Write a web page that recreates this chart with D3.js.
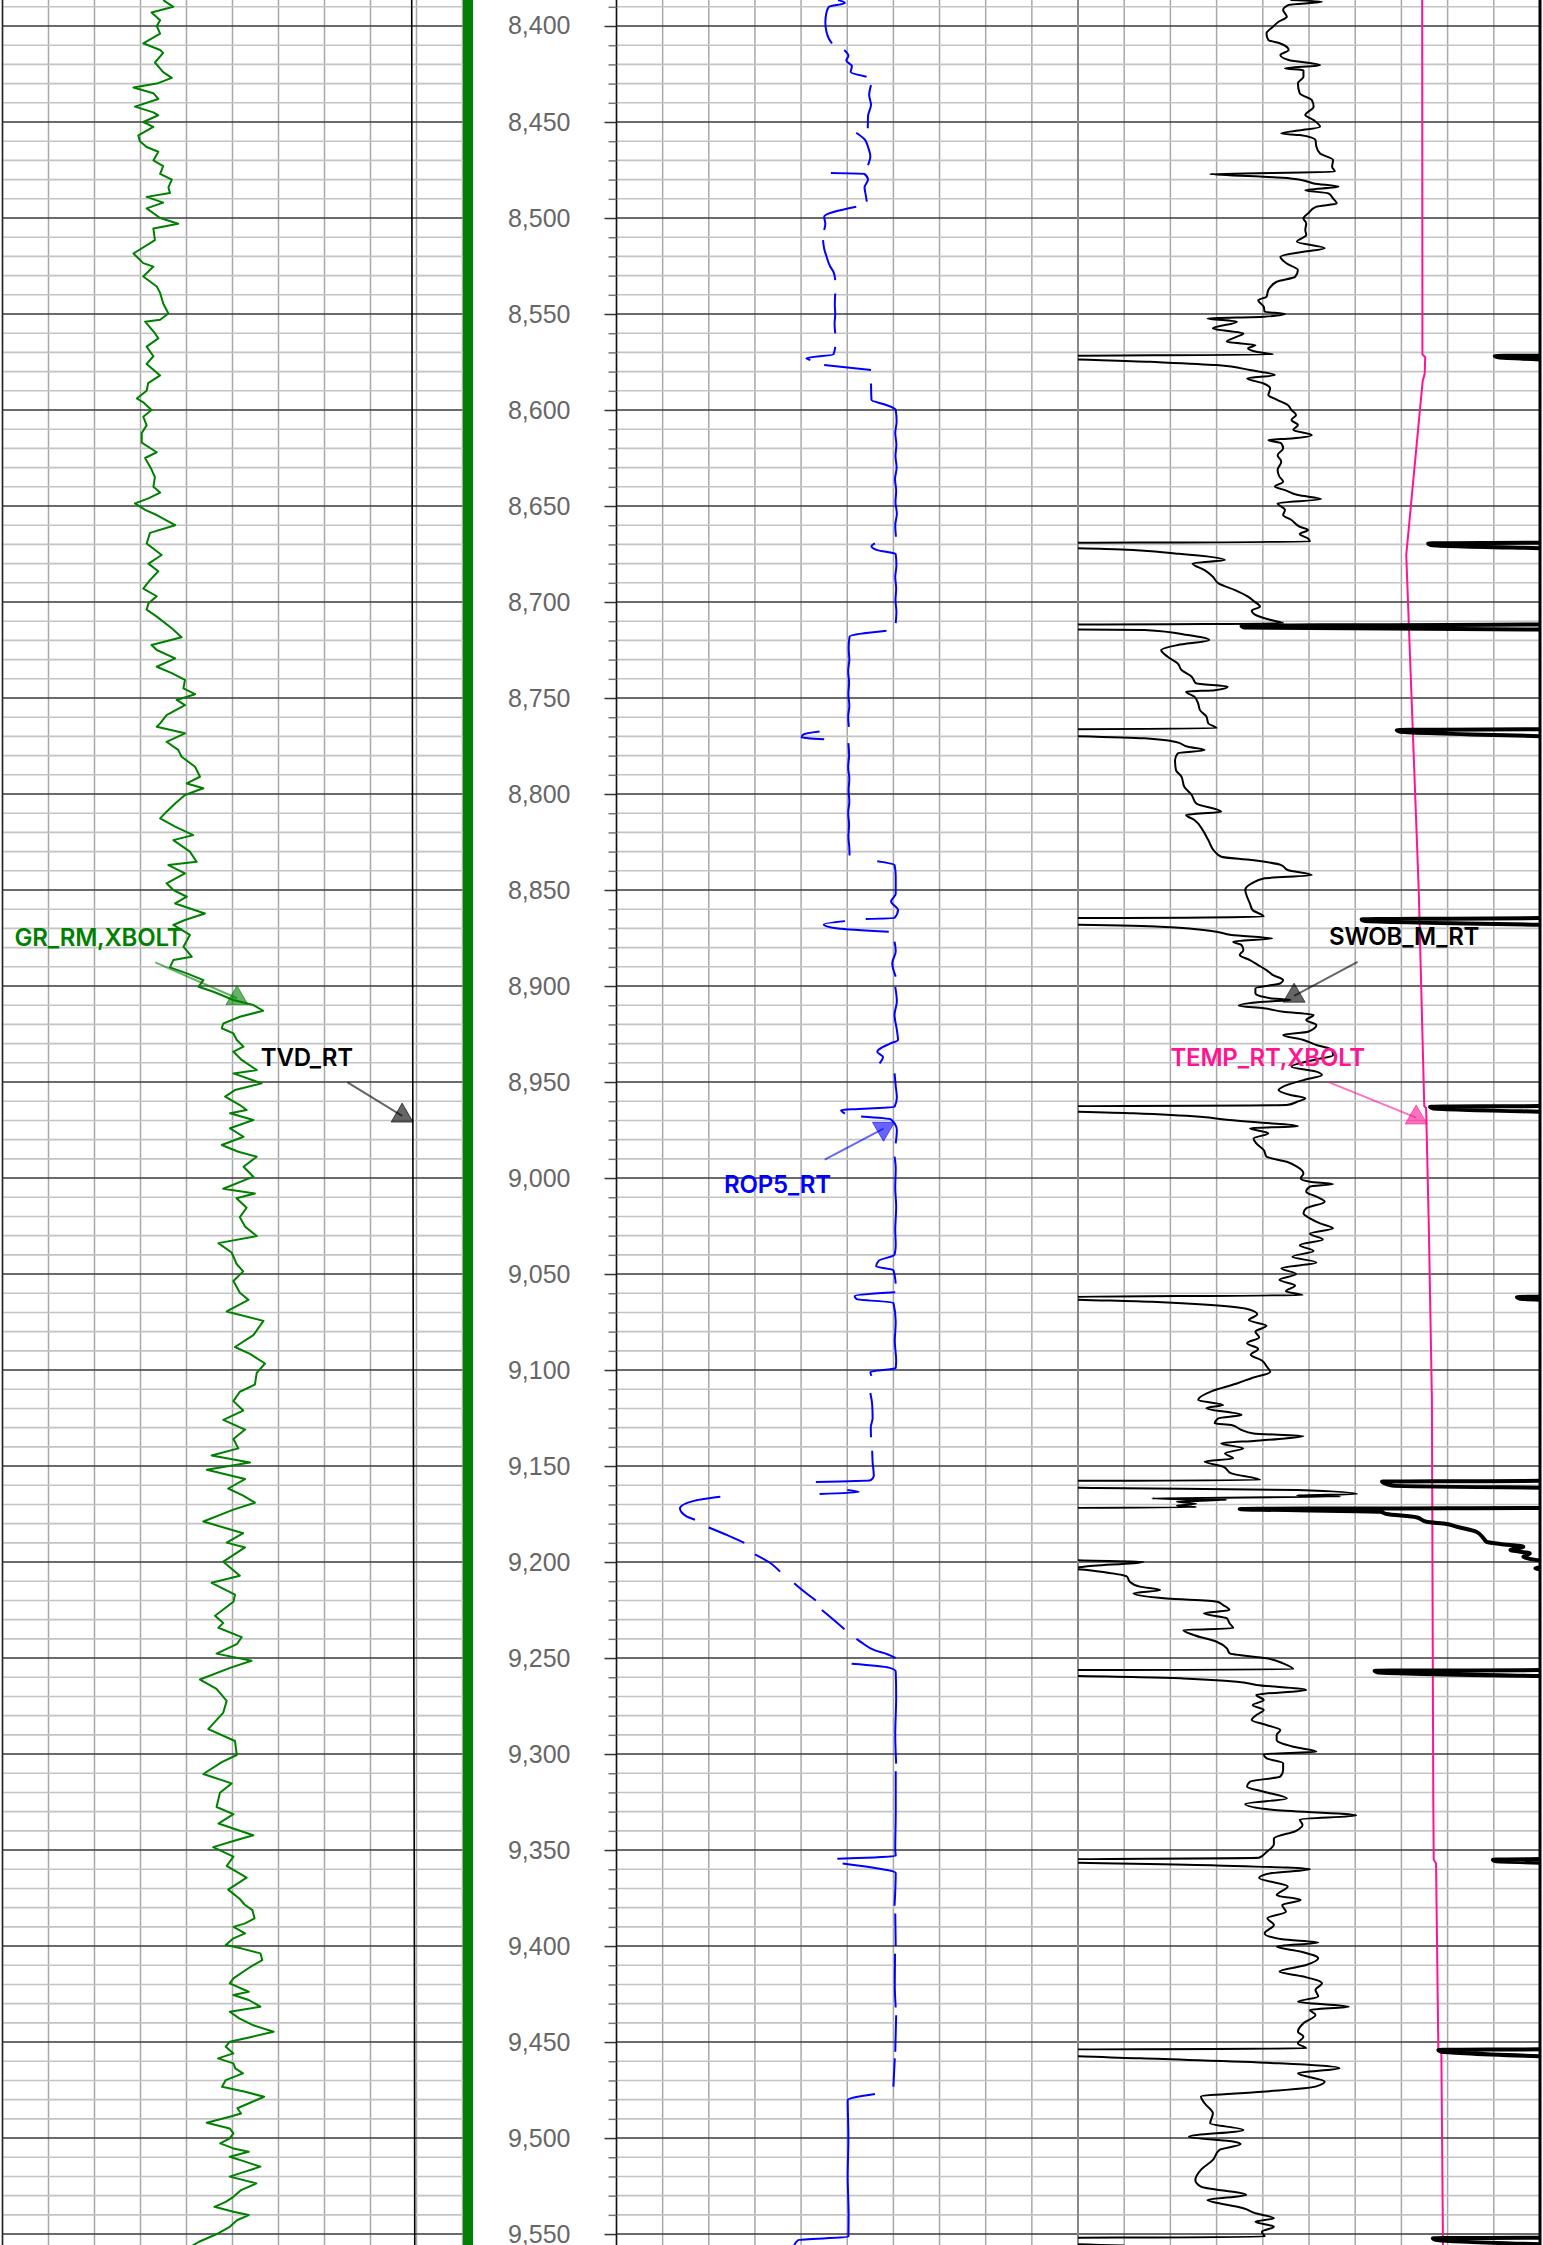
<!DOCTYPE html>
<html>
<head>
<meta charset="utf-8">
<script src="https://cdn.jsdelivr.net/npm/d3@7"></script>
<style>
  html, body { margin: 0; padding: 0; background: #fff; }
  svg { display: block; }
</style>
</head>
<body>
<div id="chart"></div>
<script>
var width = 1543;
var height = 2245;

// visible depth window, ft MD
var depthTop = 8386.46;
var depthBottom = 9555.7;

var majorDepths = d3.range(8400, 9551, 50);
var minorDepths = d3.range(8390, 9556, 10);

// curve scales (units per track)
var grDomain = [0, 150];
var tvdDomain = [7400, 8400];
var ropDomain = [0, 200];
var swobDomain = [0, 50];
var tempDomain = [50, 250];

// [depth, value]
var grData = [
[8386.5,52.4],[8390,55.7],[8393,48.6],[8397,51.4],[8400,50.3],[8404,51.4],[8409,45.9],[8412.5,51.4],[8414,52.4],[8419,49.7],[8424,52.4],[8427,55.2],[8430,50.3],[8432,42.7],[8435,49.2],[8438,50.8],[8442,43.2],[8445,49.2],[8446.5,50.8],[8450,45.9],[8452.5,49.2],[8457,44.3],[8460,44.8],[8463,47],[8465.5,50.8],[8470,49.2],[8473,52.4],[8477,51.4],[8480,55.2],[8484,54.1],[8487,54.6],[8489,47],[8492,52.4],[8495,47],[8500,51.4],[8503,57.3],[8505.5,49.2],[8511.5,49.7],[8518.5,42.7],[8523.5,45.9],[8525.3,49.2],[8530.5,45.9],[8535.7,50.3],[8539,51.4],[8544.5,52.4],[8549.7,54.1],[8553,51.4],[8554,46.5],[8560,49.7],[8562.7,50.8],[8567,47],[8572,49.2],[8576,47],[8582,51.4],[8586,47.5],[8590,47],[8594,43.8],
[8596,45.9],[8600,48.6],[8603.5,45.9],[8608,47],[8612,45.4],[8617,45.4],[8622,50.3],[8625,46.5],[8631,48.6],[8635,49.7],[8640,49.2],[8643,51.4],[8646,47.6],[8648.6,43.2],[8652,46.5],[8654.7,50.3],[8660,56.3],[8664,48.1],[8669.5,47],[8675.5,51.9],[8680,47.6],[8684,50.8],[8688.6,48.1],[8693,45.9],[8697,50.3],[8700.7,47.6],[8704,47],[8707.6,50.3],[8713.7,55.2],[8718.4,58.4],[8722.4,48.6],[8725,50.3],[8729.4,56.3],[8733.7,50.3],[8737,55.2],[8740.6,59.5],[8745,59],[8748,62.8],[8751,56.8],[8753.7,59.5],[8758.9,53.5],[8763.2,51.4],[8765,50.3],[8768.4,59.5],[8772.8,53.5],[8777,57.3],[8780.6,58.4],[8785.8,62.8],[8791,64.4],[8794.5,60.1],[8797,65.5],[8800.5,59.5],[8804.9,56.3],[8809.2,53.5],[8812.7,51.4],[8817,56.3],[8821.4,62.2],[8824,55.7],[8830,61.1],[8835.3,63.3],[8837,54.1],[8841.3,59.5],[8846.5,53.5],[8850,55.7],
[8853.5,60.1],[8857,56.3],[8862.2,66],[8865.6,59.5],[8868.2,55.7],[8873.4,61.1],[8879.5,59],[8884.7,61.7],[8886.5,55.7],[8890.3,54.6],[8893.4,60.1],[8896.9,65.5],[8900.4,63.9],[8903,68.8],[8907.3,75.3],[8909.9,81.8],[8912.9,85],[8916,77.4],[8919.5,72],[8922,71.5],[8924.7,75.3],[8928.1,76.4],[8931.6,78.6],[8934.2,75.3],[8938.5,78],[8943.8,82.9],[8945.5,75.3],[8950.7,84.5],[8954.2,75.8],[8957.6,72.6],[8962,77.4],[8964.6,79.6],[8966.3,74.2],[8969.8,81.8],[8974.1,74.2],[8978.5,78.6],[8982.8,71.5],[8986.3,76.9],[8988.9,82.9],[8994.1,78.6],[8999.3,81.8],
[9005.6,72],[9008.1,82.3],[9010.5,76.3],[9015.5,79.6],[9020.4,77.4],[9025.3,79.1],[9030.2,82.9],[9033.9,70.4],[9038.8,74.7],[9044.9,76.4],[9048.6,78.5],[9053.6,75.3],[9059.7,77.4],[9063.4,80.2],[9069.5,73.1],[9074.4,85.1],[9081.8,81.8],[9088,75.8],[9091.6,80.7],[9096.6,85.6],[9101.5,82.9],[9107.6,82.3],[9111.3,77.4],[9116.2,75.3],[9121.1,78.5],[9126,72],[9131,79.1],[9135.9,75.3],[9140.8,76.9],[9144.5,68.2],[9148.2,80.7],[9151.9,66.6],[9156.8,79.1],[9161.7,73.6],[9165.4,78.5],[9169.1,82.3],[9172.7,75.3],[9178.9,65.5],[9185,78.5],[9189.9,73.1],[9192.4,79.1],[9199.8,72],[9207.1,77.4],[9210.8,68.2],[9217,75.8],[9220.7,75.3],[9228,69.3],[9231.7,72],[9234.2,70.4],[9239.1,78],[9242.8,76.4],[9247.7,69.8],[9251.4,81.2],[9255.1,74.2],[9261.2,64.4],[9266.1,69.8],[9272.3,73.1],[9278.4,72],[9287,67.1],[9293.2,75.8],[9300.5,76.4],[9304.2,71.5],[9310.4,65.5],[9315.3,74.7],[9320.2,70.9],[9327.6,69.8],[9331.3,75.3],[9336.2,70.4],[9342.3,81.8],[9344.8,76.4],[9348.5,68.7],[9353.4,75.3],[9358.3,73.1],[9364.4,79.6],[9370.6,73.6],[9375.5,77.4],[9378.5,79],
[9381.3,81.5],[9385.6,82.2],[9388.2,79.1],[9390,75.3],[9393.4,79.1],[9396,75.3],[9399.5,72.8],[9401.2,77.8],[9403.8,84.1],[9407.3,84.7],[9410.8,80.9],[9416.8,75.3],[9419.4,74.1],[9423.8,80.3],[9425.5,75.3],[9428.1,80.3],[9431.6,84.1],[9434.2,74.1],[9437.7,77.2],[9441.1,81.5],[9444.6,88.4],[9447.2,81.5],[9449.8,74.1],[9452.4,72.8],[9455.9,75.3],[9458.5,70.3],[9461.1,75.3],[9463.7,75.9],[9466.3,78.4],[9469.8,72.8],[9473.3,71.6],[9475.9,79.1],[9478.5,85.3],[9481.1,81.5],[9484.5,76.6],[9487.2,77.8],[9488.9,74.1],[9492,66.6],[9495,74.1],[9497.6,75.3],[9500.2,74.1],[9502.8,71],[9505.4,75.3],[9507.1,80.3],[9509.7,74.1],[9512.3,79.1],[9514.9,84.1],[9517.5,79.1],[9520.1,74.1],[9523.6,82.8],[9527.1,77.8],[9530.6,75.3],[9533.2,72.8],[9535.8,69.1],[9538.4,75.3],[9540.1,80.3],[9542.7,76.6],[9546.2,74.1],[9549.7,70.3],[9554,64.1],[9556,62]
];

var tvdData = [[8386.5,8289.6],[8700,8290.8],[8950,8291.9],[9200,8293.8],[9400,8295.4],[9556,8296.2]];

// null = no sample (gap in the curve)
var ropData = [
[8386.5,96],[8388,99],[8390,92],[8393,91],[8398,90.5],[8403,91],[8406.5,92],[8409.1,93.4],[8410,null],
[8412.5,98.7],[8415.5,100.5],[8418,99.6],[8421,102],[8424,101.5],[8426.4,108.4],[8428,null],
[8430.8,110.3],[8436,109.5],[8441,110.3],[8447,109],[8453.3,108.9],[8454,null],
[8455.6,103.9],[8459,107.5],[8463,109],[8468,110],[8472.4,109],[8474,null],
[8476.6,92.9],[8477,107.4],[8480,109],[8484,107.5],[8488,108],[8491.5,108.5],[8493,null],
[8494.1,103.9],[8499.3,90],[8503,90.5],[8506.3,90],[8508,null],
[8511.5,89.5],[8516,90],[8520,91],[8525,92.5],[8528,94],[8532.3,94.8],[8535,null],
[8539.3,94.8],[8545,94.6],[8550,94.8],[8555,94.5],[8560.1,94.8],[8563,null],
[8567.1,94.8],[8571,94],[8573.1,82.3],[8574,84],[8575,null],
[8576.6,90],[8579.2,110.3],[8582,null],
[8586.2,110.3],[8594.8,110.5],[8597,116],[8600,121],[8606,121.4],[8612,120.8],[8618,121.3],[8624,120.9],[8630,121.4],[8636,120.7],[8642,121.2],[8648,120.9],[8654,121.5],[8660,120.8],[8666,121.1],[8668,null],
[8669.5,112],[8671,110.5],[8673,113],[8675,121],[8681,121.3],[8687,120.8],[8693,121.2],[8699,120.9],[8705,121.3],[8711,121],[8713,null],
[8715,117],[8718,101],[8724,100.6],[8730,100.9],[8736,100.4],[8742,100.8],[8748,100.5],[8754,100.9],[8760,100.4],[8765,100.7],[8766,null],
[8767.5,88],[8769,81],[8770.5,80.2],[8771.5,90],[8773,null],
[8773.5,100.5],[8780,100.8],[8786,100.4],[8792,100.9],[8798,100.6],[8804,100.9],[8810,100.4],[8816,100.8],[8822,100.5],[8828,100.9],[8832,101],[8833,null],
[8835,113],[8837,120.5],[8843,121],[8852,121],[8856,119],[8860.4,122],[8864.5,120.5],[8865.1,108],[8865.8,null],
[8866.2,99],[8867.9,89.8],[8870,96],[8871.7,118],[8873,null],
[8876.9,120.5],[8882,121],[8888,119.5],[8895.1,121],[8897,null],
[8900.4,120.8],[8908,121.5],[8915,120.5],[8922.9,121.5],[8928.1,122],[8930,118.5],[8934.2,113],[8937,115.5],[8940.3,114],[8942,null],
[8945.5,120.5],[8952,121],[8958,121.5],[8962.9,120.5],[8964,105],[8964.6,97.3],[8966.5,99],[8967.3,null],
[8968,106],[8969.5,119],[8975,121.5],[8982,121],[8985,null],
[8988.9,120.5],[8995,121],[9005,120.8],[9015,121.2],[9027,120.8],[9035,121],[9040,120.5],[9043,113.7],[9046,112.5],[9048,120],[9055,121],[9058,null],
[9059.5,120.8],[9061.5,103.2],[9063,104],[9065,120],[9075,121],[9085,120.6],[9095,121.2],[9099,121],[9101,110],[9103,110.5],[9110,null],
[9112,110],[9118,110.8],[9125,111],[9130,110.2],[9135,110.3],[9140,null],
[9142,110.8],[9148,111],[9155,111.5],[9157.5,110],[9158.3,86.4],[9159,null],
[9162.5,100],[9163.5,105],[9164.5,88],[9165,null],
[9166,45],[9168,34],[9172,27.5],[9176,30],[9178,34],[9180,null],
[9182,40],[9186,48],[9190,55.4],[9194,null],
[9196,60],[9200,66],[9205,70.9],[9209,null],
[9211,77],[9216,82],[9220,86.4],[9223,null],
[9225,89],[9228,92],[9235,98.8],[9238,null],
[9240,104],[9242,106.3],[9246,112],[9248,117.4],[9250,121],[9252,null],
[9253,101.9],[9255,118],[9257,121],[9270,121.2],[9290,120.8],[9305,121.2],[9307,null],
[9309,121],[9330,121],[9350,120.8],[9353,121],[9354.5,95.7],[9355.5,null],
[9357,98],[9359,110],[9362,121],[9379,120.5],[9381,null],
[9383,120.8],[9400,121],[9402,null],
[9404,120.7],[9420,120.6],[9432,121],[9434,null],
[9436,121.2],[9455,120.8],[9457,null],
[9458.5,120.6],[9473.3,120],[9475,null],
[9477,112],[9480.2,100.2],[9500,100.5],[9520,100.2],[9540,100.6],[9551.4,100.5],[9553.1,78.8],[9556,77]
];

// negative values run off the left edge and come back in on the right (wrap)
var swobData = [
[8386.5,23],[8387.4,26.4],[8389,22.8],[8391.7,22.2],[8395.2,22.6],[8397.8,21.7],[8400.4,21.1],[8403.9,20.4],[8407.3,20.6],[8409.1,21.9],[8412.5,22.8],[8415.1,21.9],[8417.7,22.8],[8420.4,26.2],[8422.1,22.4],[8423,24.4],[8426.4,24.4],[8429.9,23.8],[8435.1,24],[8438.6,25.3],[8442,25.5],[8446.4,24.6],[8449,25.5],[8452.5,26.2],[8456,22],[8456.8,24],[8459.4,25.7],[8462.9,25.8],[8466.4,26.2],[8469.8,27.6],[8473.3,27.5],[8475.9,27.8],[8477.1,14.3],[8478.5,20.1],[8479.4,23],[8481.1,24.9],[8482,25.5],[8483.7,28.2],[8485.5,24.6],[8487.2,27.1],[8489.8,27.6],[8492.4,28],[8494.1,25.8],[8497.6,24.9],[8500.2,24.4],[8502.8,24.7],[8506.3,24.6],[8508.9,24.7],[8512.4,23.7],[8515.8,26.7],[8517.6,24.4],[8520.2,21.9],[8523.7,22.6],[8527.1,23.8],[8530.6,23.5],[8533.2,21.5],[8537.5,20.6],[8541,20.4],[8542.8,19.5],[8546.2,20.1],[8548.8,20.2],[8550,22.4],[8551.4,20.1],[8552.3,14],[8554,17.2],[8557.5,14.6],[8560.1,17.9],[8561.8,17.2],[8564.4,16.1],[8566.2,19.2],[8567.9,18.4],[8569.7,19.3],[8571.1,21.1],[8571.9,-4.9],[8572.6,-4.5],[8574.9,7.8],[8576.6,15],[8579.2,18.6],[8581.8,21.3],[8583.5,18.3],[8586.2,20.1],[8588.8,20.8],[8592.2,20.6],[8594.8,21.6],[8597.4,22.7],[8600,23.1],[8602.6,23.6],[8605.2,23.1],[8607.8,23.8],[8610.4,23.3],[8613,25.3],[8614.8,23.1],[8615.6,20.6],[8617.4,22],[8620,22.2],[8623.5,21.6],[8626.9,22],[8631.3,21.6],[8634.7,21.8],[8637.3,22.2],[8639.9,21.3],[8641.7,22.4],[8644.3,23.8],[8646.4,26.3],[8648.6,21.6],[8652.1,22.4],[8654.7,22.2],[8657.3,23.1],[8660.8,24],[8662.5,24.9],[8664.6,24],[8666.9,24.9],[8668.6,25.1],[8669.5,-12.1],[8670.3,-11.8],[8672.6,4.7],[8674.7,10.5],[8678.1,15.9],[8679.9,12.4],[8683.4,13.7],[8686.8,14.6],[8690.3,15.2],[8693.8,17],[8697.2,18.4],[8699.8,19.1],[8702.4,19.7],[8704.5,18.8],[8707.7,19.7],[8709.4,20.9],[8711.1,22.2],[8712.5,-32.3],[8713.3,-32],[8714.6,7.2],[8717.2,11.9],[8719.8,14.2],[8722.4,10.8],[8725,9],[8728.5,9.7],[8732,10.8],[8735.4,11.2],[8738.9,12.3],[8742.4,12.8],[8744.1,16.2],[8745.9,14.8],[8746.7,11.7],[8749.3,12.6],[8752.8,13],[8756.3,13.2],[8759.7,13.9],[8763.2,14.1],[8765.8,15],[8766.7,-15.5],[8767.5,-15.2],[8771,7.2],[8772.8,10.5],[8775.4,11.9],[8777.1,13.7],[8778.8,10.8],[8782.3,10.5],[8787.5,10.6],[8791,11.2],[8796.2,11.5],[8800.5,12.3],[8804.9,12.8],[8809.2,15.5],[8810.9,11.7],[8813.5,12.6],[8818.8,13.5],[8824,14.1],[8830,14.8],[8832.7,15.5],[8834.4,18.8],[8837,22],[8839.6,22.7],[8842.2,25.3],[8843.9,20.2],[8846.6,18.8],[8850,18.1],[8853.5,18.3],[8857,18.6],[8860.4,18.9],[8863.9,20.1],[8865.3,-19.3],[8866.1,-19],[8869.1,8.9],[8871.7,15],[8873.4,16.6],[8875.2,21],[8876.9,16.8],[8878.7,17.7],[8881.3,17.9],[8883.9,17.5],[8886.5,18.6],[8889.1,19.5],[8891.7,20.4],[8894.3,21.1],[8896.9,22.2],[8898.6,21.9],[8901.2,19.2],[8903.8,19.2],[8906.4,20.8],[8907.3,23],[8908.2,20.1],[8910.3,17.4],[8911.6,20.1],[8913.4,22.2],[8915.1,25.5],[8917.7,24.7],[8920.3,25.8],[8923.8,24.9],[8925.5,22.2],[8928.1,24.4],[8930.7,25.8],[8933.3,27.5],[8936,27.6],[8938.5,25.5],[8942,23.1],[8944.6,25.8],[8946.4,26.4],[8949,24.4],[8952.4,22.2],[8954.2,21.7],[8956.8,23],[8958.5,24.6],[8960.3,23.7],[8962,22.6],[8962.9,-11.9],[8963.7,-11.6],[8966.3,6],[8968.1,13.2],[8969.8,16.4],[8971.5,20.8],[8973,23.8],[8974.1,18.6],[8976.7,20.6],[8979.4,19],[8982,19.3],[8985.4,20.1],[8988.9,20.4],[8991.5,22.6],[8994.1,23.7],[8997.6,24.4],[9000.2,24.1],[9001.9,25.1],[9003.1,27.6],[9004.5,25.1],[9007.1,24.7],[9009.7,25.8],[9012.3,26.7],[9015.8,24.7],[9018.4,24.4],[9021,25.1],[9023.6,26.2],[9026.2,27.6],[9029,25.1],[9032,26.5],[9035,24],[9038,25.5],[9041,23.2],[9044,25.8],[9047,22],[9050,23.6],[9053,21.8],[9056,23.5],[9059,22.5],[9061,24.3],[9062,-2.5],[9062.8,-2.2],[9064.5,8],[9066,14],[9068,18.1],[9071,19.4],[9074,18.5],[9077,20.4],[9080,19.2],[9083,19.6],[9086,18.3],[9089,19.5],[9092,18.7],[9095,19.9],[9098,20.4],[9101,20.8],[9104,18.9],[9107,17.2],[9111,14.5],[9115.6,13],[9118.2,15.7],[9119.9,13.9],[9123.4,17.7],[9125.1,15.2],[9127.8,14.8],[9128.6,16.6],[9131.2,17.7],[9133,19],[9134.4,24.4],[9135.6,22.4],[9136.8,19.3],[9138.2,15.5],[9140.8,17.9],[9143.4,15.9],[9146,16.8],[9147.7,13.7],[9150.3,15.7],[9153.8,16.6],[9157.3,19.7],[9158.1,-17.1],[9160.2,-16],[9161.4,2],[9162.5,23.7],[9164.6,30.2],[9165.3,23.7],[9165.8,28.4],[9166.9,8],[9167.6,16.1],[9168.5,10.7],[9169.7,12.8],[9170.7,10.7],[9171.5,12.8],[9172.4,-32.5],[9173.8,-17.3],[9175,-16.6],[9176.7,-13.4],[9179,-12.3],[9180.2,-10.1],[9181.6,-9],[9184.2,-6.9],[9187.7,-6.1],[9189.4,-5.8],[9190.6,-4.3],[9192,-1.8],[9193.7,-3.2],[9195.5,-1.1],[9197.2,-1.8],[9199,-0.3],[9199.9,7.1],[9202.4,0.6],[9203.3,-0.5],[9204.2,1],[9207.6,5.3],[9210.2,5.6],[9212.8,6.7],[9214.6,8.9],[9216.3,6],[9219,9.6],[9220.6,15],[9222.4,15.7],[9225,16.4],[9226.7,13.6],[9229.3,16.1],[9231.9,16.4],[9234.5,16.8],[9235.4,11.4],[9238,12.5],[9241.5,15],[9244.9,16.1],[9247.5,16.4],[9250.1,20.4],[9252.8,22.2],[9255.9,23.3],[9256.6,-17.9],[9257.4,-17.6],[9260.6,11.4],[9262.3,17.2],[9264,19.3],[9266.6,24.7],[9269.2,19.3],[9271.9,20.1],[9274.5,18.9],[9277.1,20.1],[9279.7,19.3],[9282.3,18.8],[9284.9,20.4],[9287.5,21.9],[9290.1,21.5],[9292.7,21.5],[9296.2,23.3],[9298.8,25.8],[9300,20.1],[9302.2,20.4],[9304.8,22.2],[9308.3,22.2],[9311.7,21.9],[9314.4,18.6],[9317,18.3],[9319.6,20.1],[9323.1,22.6],[9326,18.1],[9329,21],[9332,30.1],[9334,24],[9337,24.3],[9340,23.6],[9344,21.2],[9347,21.2],[9351,20.4],[9354,19.6],[9355,-5.1],[9355.8,-4.8],[9358,15],[9360,25.1],[9362,21],[9364.6,19.6],[9369,22.7],[9373.5,21.5],[9376,24.1],[9378.6,22.1],[9382.1,22.5],[9385.5,20.5],[9389,21.2],[9393.4,20.2],[9396.5,22.1],[9398.2,26],[9400.3,21.5],[9402.9,24.1],[9406.4,26],[9409.9,24.7],[9413.3,21.8],[9415.9,24.4],[9419.4,26.4],[9422.9,25.7],[9426.3,26],[9429,23.8],[9431.6,29.3],[9433.3,25.1],[9435.9,25.7],[9440.2,24.4],[9444.6,23.8],[9447.2,24.4],[9450.7,23.8],[9453.3,24.7],[9454.1,-11],[9454.9,-10.7],[9458.5,6.8],[9461.1,21.8],[9463.7,28.3],[9466.3,23.8],[9470.6,26.7],[9473.2,25.7],[9475.9,19.9],[9478.4,13.3],[9481.9,13.7],[9487.1,14.6],[9492.3,14.3],[9495.8,17.9],[9499.3,12],[9501.9,16.9],[9503.1,17.6],[9506.2,15.3],[9511.4,14.6],[9516.6,13.3],[9521.8,12.7],[9525.3,13.3],[9529.6,18.2],[9532.3,14],[9534,15.3],[9536.6,17.9],[9539.2,19.2],[9541.8,21.2],[9543.6,19.2],[9546.2,21.2],[9548.8,19.9],[9551.4,20.2],[9552.2,-11.6],[9553,-11.3],[9556,5]
];

var tempData = [[8386.5,199],[8571,199.1],[8572.5,200.3],[8581,200.1],[8585,199.2],[8675.5,192.1],[8850,197.5],[8962.5,199.9],[8963.5,200.7],[9027,201.9],[9115,203.2],[9324,203.8],[9355,204],[9357,205],[9454,206],[9456,207.3],[9556,208]];

// curve labels, anchored on a curve sample; dx/dy = label offset from it
var annotations = [
  {text: 'GR_RM,XBOLT', curve: 'gr', depth: 8909, value: 80.2, dx: -150, dy: -66, color: '#008000'},
  {text: 'TVD_RT', curve: 'tvd', depth: 8971, value: 8291.9, dx: -106, dy: -65, color: '#000000'},
  {text: 'ROP5_RT', curve: 'rop', depth: 8971.2, value: 120.5, dx: -117, dy: 62, color: '#0000ff'},
  {text: 'SWOB_M_RT', curve: 'swob', depth: 8908.2, value: 22.2, dx: 121, dy: -65, color: '#000000'},
  {text: 'TEMP_RT,XBOLT', curve: 'temp', depth: 8971, value: 201.4, dx: -160, dy: -65, color: '#ff1493'}
];

var svg = d3.select('#chart').append('svg')
    .attr('width', width)
    .attr('height', height)
    .style('background', '#fff');

var y = d3.scaleLinear().domain([depthTop, depthBottom]).range([0, height]);

var t1 = [2.5, 462.5], t2 = [616.5, 1078], t3 = [1078, 1540];

var x = {
  gr: d3.scaleLinear().domain(grDomain).range(t1),
  tvd: d3.scaleLinear().domain(tvdDomain).range(t1),
  rop: d3.scaleLinear().domain(ropDomain).range(t2),
  swob: d3.scaleLinear().domain(swobDomain).range(t3),
  temp: d3.scaleLinear().domain(tempDomain).range(t3)
};

var defs = svg.append('defs');
[['clip1', t1], ['clip2', t2], ['clip3', t3]].forEach(function(c) {
  defs.append('clipPath').attr('id', c[0])
    .append('rect').attr('x', c[1][0]).attr('y', 0)
    .attr('width', c[1][1] - c[1][0]).attr('height', height);
});

// ---- grid
var grid = svg.append('g');

function vlines(scale, step, color) {
  var dom = scale.domain();
  grid.append('g').selectAll('line')
    .data(d3.range(dom[0], dom[1] + step / 2, step))
    .join('line')
      .attr('x1', d => scale(d)).attr('x2', d => scale(d))
      .attr('y1', 0).attr('y2', height)
      .attr('stroke', color).attr('stroke-width', 1.5);
}
vlines(x.gr, 15, '#a8a8a8');
vlines(x.rop, 20, '#a8a8a8');
vlines(x.swob, 5, '#a8a8a8');

function hlines(xa, xb) {
  grid.append('g').selectAll('line')
    .data(minorDepths.filter(d => d % 50 !== 0))
    .join('line')
      .attr('x1', xa).attr('x2', xb)
      .attr('y1', d => y(d)).attr('y2', d => y(d))
      .attr('stroke', '#c4c4c4').attr('stroke-width', 1.6);
  grid.append('g').selectAll('line')
    .data(majorDepths)
    .join('line')
      .attr('x1', xa).attr('x2', xb)
      .attr('y1', d => y(d)).attr('y2', d => y(d))
      .attr('stroke', '#3a3a3a').attr('stroke-width', 1.4);
}
hlines(t1[0], t1[1]);
hlines(t2[0], t3[1]);

// track borders
grid.append('line').attr('x1', t1[0]).attr('x2', t1[0]).attr('y1', 0).attr('y2', height)
  .attr('stroke', '#222').attr('stroke-width', 1.5);
grid.append('line').attr('x1', t2[0]).attr('x2', t2[0]).attr('y1', 0).attr('y2', height)
  .attr('stroke', '#111').attr('stroke-width', 1.5);
grid.append('line').attr('x1', t3[0]).attr('x2', t3[0]).attr('y1', 0).attr('y2', height)
  .attr('stroke', '#888').attr('stroke-width', 2);

// ---- depth axis
var depthFmt = d3.format(',');
var minorAxis = svg.append('g')
    .attr('transform', `translate(${t2[0]},0)`)
    .call(d3.axisLeft(y).tickValues(minorDepths.filter(d => d % 50 !== 0)).tickSize(8).tickFormat(''));
minorAxis.select('.domain').remove();
minorAxis.selectAll('line').attr('stroke', '#777').attr('stroke-width', 1.5);

var majorAxis = svg.append('g')
    .attr('transform', `translate(${t2[0]},0)`)
    .call(d3.axisLeft(y).tickValues(majorDepths).tickSize(12).tickPadding(34).tickFormat(depthFmt));
majorAxis.select('.domain').remove();
majorAxis.selectAll('line').attr('stroke', '#333').attr('stroke-width', 1.5);
majorAxis.selectAll('text')
    .attr('fill', '#666')
    .style('font-family', '"Liberation Sans", Arial, sans-serif')
    .style('font-size', '25px');

// ---- curves
function curve(data, sx, offset, smooth) {
  var line = d3.line()
    .defined(d => d[1] !== null)
    .x(d => sx(d[1] + (offset || 0)))
    .y(d => y(d[0]));
  if (smooth) line.curve(d3.curveMonotoneY);
  return line(data);
}

var c1 = svg.append('g').attr('clip-path', 'url(#clip1)').attr('fill', 'none');
c1.append('path').attr('d', curve(tvdData, x.tvd))
  .attr('stroke', '#000').attr('stroke-width', 1.6);
c1.append('path').attr('d', curve(grData, x.gr))
  .attr('stroke', '#008000').attr('stroke-width', 2).attr('stroke-linejoin', 'round');

var c2 = svg.append('g').attr('clip-path', 'url(#clip2)').attr('fill', 'none');
c2.append('path').attr('d', curve(ropData, x.rop, 0, true))
  .attr('stroke', '#0000ff').attr('stroke-width', 2).attr('stroke-linejoin', 'round');

var c3 = svg.append('g').attr('clip-path', 'url(#clip3)').attr('fill', 'none');
c3.append('path').attr('d', curve(tempData, x.temp))
  .attr('stroke', '#ff1493').attr('stroke-width', 2);
c3.append('path').attr('d', curve(swobData, x.swob, 0, true))
  .attr('stroke', '#000').attr('stroke-width', 2).attr('stroke-linejoin', 'round');
// wrapped part of SWOB (one full scale to the right)
c3.append('path').attr('d', curve(swobData, x.swob, swobDomain[1], true))
  .attr('stroke', '#000').attr('stroke-width', 4).attr('stroke-linejoin', 'round');

// thick green bar at the right of track 1, right border of track 3
svg.append('rect').attr('x', 463).attr('y', 0).attr('width', 10).attr('height', height)
  .attr('fill', '#008000');
svg.append('line').attr('x1', t3[1]).attr('x2', t3[1]).attr('y1', 0).attr('y2', height)
  .attr('stroke', '#000').attr('stroke-width', 3);

// ---- annotations
var ann = svg.append('g');
annotations.forEach(function(a) {
  var px = x[a.curve](a.value), py = y(a.depth);
  var cx = px + a.dx, cy = py + a.dy;
  var len = Math.hypot(a.dx, a.dy);
  var ux = -a.dx / len, uy = -a.dy / len;

  var label = ann.append('text')
      .attr('x', cx).attr('y', cy)
      .attr('text-anchor', 'middle')
      .attr('dominant-baseline', 'central')
      .attr('fill', a.color)
      .style('font-family', 'Inter, "Noto Sans", sans-serif')
      .style('font-weight', 600)
      .style('font-size', '24px')
      .style('letter-spacing', '-0.2px')
      .text(a.text);
  var bb = label.node().getBBox();
  var hw = bb.width / 2 + 4, hh = 25;
  var s = Math.min(hw / Math.abs(ux || 1e-6), hh / Math.abs(uy || 1e-6));

  var hx = px - ux * 12.5, hy = py - uy * 12.5;
  ann.append('line')
      .attr('x1', cx + ux * s).attr('y1', cy + uy * s)
      .attr('x2', hx).attr('y2', hy)
      .attr('stroke', a.color).attr('stroke-opacity', 0.6).attr('stroke-width', 2);
  var up = uy > 0 ? 1 : -1;
  var tri = [[hx - 11, hy + 6.3 * up], [hx + 11, hy + 6.3 * up], [hx, hy - 12.7 * up]];
  ann.append('path')
      .attr('d', d3.line()(tri) + 'Z')
      .attr('fill', a.color).attr('fill-opacity', 0.6)
      .attr('stroke', a.color).attr('stroke-opacity', 0.6).attr('stroke-width', 1);
});
</script>
</body>
</html>
